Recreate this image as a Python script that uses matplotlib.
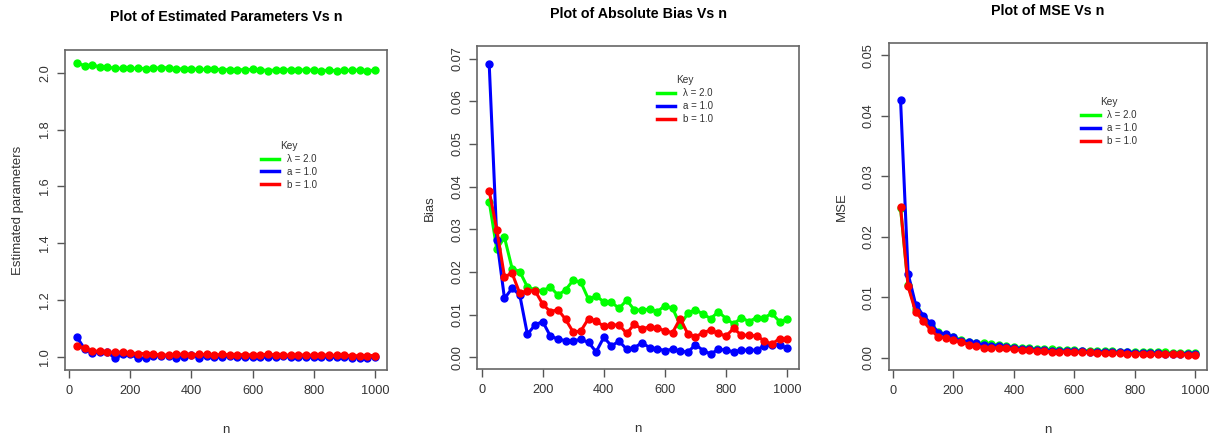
import numpy as np
import matplotlib
matplotlib.use("Agg")
from matplotlib import pyplot as plt

plt.rcParams['font.family'] = ['Liberation Sans', 'DejaVu Sans']

# sample sizes
n = list(range(25, 1001, 25))

# estimated parameters
est_lambda = [2.036, 2.025, 2.028, 2.021, 2.020, 2.016, 2.016, 2.016, 2.016, 2.015,
              2.016, 2.018, 2.018, 2.014, 2.014, 2.013, 2.013, 2.012, 2.013, 2.011,
              2.011, 2.011, 2.011, 2.012, 2.011, 2.008, 2.010, 2.011, 2.010, 2.009,
              2.011, 2.009, 2.008, 2.009, 2.008, 2.009, 2.009, 2.010, 2.008, 2.009]
est_a = [1.069, 1.028, 1.014, 1.016, 1.015, 0.995, 1.008, 1.008, 0.995, 0.996,
         1.004, 1.004, 1.004, 0.997, 0.999, 1.005, 0.997, 1.004, 0.998, 0.998,
         1.003, 0.998, 0.998, 0.998, 0.998, 0.998, 0.999, 1.003, 0.998, 0.999,
         0.998, 0.998, 0.999, 0.998, 0.998, 0.998, 0.997, 0.997, 0.997, 0.998]
est_b = [1.039, 1.030, 1.019, 1.020, 1.015, 1.016, 1.016, 1.013, 1.011, 1.011,
         1.009, 1.006, 1.006, 1.009, 1.009, 1.007, 1.008, 1.008, 1.006, 1.008,
         1.007, 1.007, 1.007, 1.006, 1.006, 1.009, 1.006, 1.005, 1.006, 1.006,
         1.006, 1.005, 1.007, 1.005, 1.005, 1.005, 1.004, 1.003, 1.004, 1.004]

# absolute bias
bias_lambda = [0.0365, 0.0253, 0.0281, 0.0208, 0.0201, 0.0165, 0.0158, 0.0156, 0.0165, 0.0146,
               0.0158, 0.0181, 0.0176, 0.0136, 0.0144, 0.0130, 0.0129, 0.0115, 0.0134, 0.0111,
               0.0111, 0.0113, 0.0107, 0.0121, 0.0115, 0.0076, 0.0103, 0.0112, 0.0101, 0.0091,
               0.0107, 0.0091, 0.0078, 0.0093, 0.0084, 0.0093, 0.0093, 0.0103, 0.0084, 0.0089]
bias_a = [0.0687, 0.0275, 0.0138, 0.0162, 0.0146, 0.0054, 0.0076, 0.0084, 0.0050, 0.0043,
          0.0039, 0.0039, 0.0042, 0.0035, 0.0013, 0.0047, 0.0027, 0.0038, 0.0019, 0.0023,
          0.0034, 0.0023, 0.0020, 0.0016, 0.0019, 0.0015, 0.0012, 0.0030, 0.0016, 0.0008,
          0.0019, 0.0017, 0.0013, 0.0017, 0.0017, 0.0017, 0.0027, 0.0029, 0.0030, 0.0021]
bias_b = [0.0390, 0.0298, 0.0189, 0.0197, 0.0150, 0.0156, 0.0156, 0.0125, 0.0107, 0.0112,
          0.0089, 0.0059, 0.0062, 0.0091, 0.0085, 0.0073, 0.0076, 0.0076, 0.0056, 0.0078,
          0.0066, 0.0072, 0.0069, 0.0062, 0.0058, 0.0091, 0.0055, 0.0048, 0.0058, 0.0064,
          0.0056, 0.0050, 0.0068, 0.0052, 0.0052, 0.0050, 0.0039, 0.0031, 0.0044, 0.0042]

# mean squared error
mse_lambda = [0.0247, 0.0120, 0.0080, 0.0068, 0.0052, 0.0043, 0.0038, 0.0034, 0.0030, 0.0026,
              0.0025, 0.0024, 0.0023, 0.0021, 0.0020, 0.0018, 0.0017, 0.0016, 0.0015, 0.0014,
              0.0014, 0.0013, 0.0013, 0.0013, 0.0012, 0.0012, 0.0011, 0.0011, 0.0011, 0.0010,
              0.0010, 0.0010, 0.0009, 0.0009, 0.0009, 0.0009, 0.0008, 0.0008, 0.0008, 0.0008]
mse_a = [0.0426, 0.0139, 0.0088, 0.0070, 0.0057, 0.0042, 0.0039, 0.0034, 0.0028, 0.0026,
         0.0024, 0.0021, 0.0020, 0.0020, 0.0018, 0.0017, 0.0015, 0.0014, 0.0013, 0.0013,
         0.0012, 0.0012, 0.0011, 0.0011, 0.0011, 0.0010, 0.0010, 0.0010, 0.0009, 0.0009,
         0.0009, 0.0008, 0.0008, 0.0008, 0.0008, 0.0007, 0.0007, 0.0007, 0.0007, 0.0007]
mse_b = [0.0249, 0.0118, 0.0076, 0.0061, 0.0046, 0.0035, 0.0033, 0.0029, 0.0027, 0.0022,
         0.0020, 0.0017, 0.0017, 0.0016, 0.0016, 0.0014, 0.0013, 0.0013, 0.0011, 0.0011,
         0.0010, 0.0010, 0.0010, 0.0010, 0.0009, 0.0009, 0.0008, 0.0008, 0.0008, 0.0008,
         0.0007, 0.0007, 0.0007, 0.0006, 0.0006, 0.0006, 0.0006, 0.0006, 0.0005, 0.0005]

labels = ["\u03bb = 2.0", "a = 1.0", "b = 1.0"]
colors = ["#00ff00", "#0000ff", "#ff0000"]

panels = [
    ("Plot of Estimated Parameters Vs n", "Estimated parameters",
     [est_lambda, est_a, est_b], (0.953, 2.080), [1.0, 1.2, 1.4, 1.6, 1.8, 2.0], "%.1f",
     [0.0536, 0.159, 0.2655, 0.727], (0.608, 0.716), 17),
    ("Plot of Absolute Bias Vs n", "Bias",
     [bias_lambda, bias_a, bias_b], (-0.00276, 0.0729), np.arange(0, 0.071, 0.01), "%.2f",
     [0.3938, 0.161, 0.2655, 0.734], (0.558, 0.910), 14),
    ("Plot of MSE Vs n", "MSE",
     [mse_lambda, mse_a, mse_b], (-0.0020, 0.0520), np.arange(0, 0.051, 0.01), "%.2f",
     [0.7333, 0.159, 0.2628, 0.743], (0.604, 0.834), 11),
]

fig = plt.figure(figsize=(12.12, 4.4), dpi=100)

for title, ylab, series, ylim, yticks, fmt, rect, legpos, ty in panels:
    ax = fig.add_axes(rect)
    for vals, col, lab in zip(series, colors, labels):
        ax.plot(n, vals, color=col, lw=2.2, marker='o', ms=5, label=lab)
    ax.set_xlim(-14, 1039)
    ax.set_ylim(*ylim)
    ax.set_xticks([0, 200, 400, 600, 800, 1000])
    ax.set_yticks(yticks)
    ax.set_yticklabels([fmt % v for v in yticks], rotation=90, va='center')
    ax.tick_params(direction='out', length=6, width=1, color='#555555',
                   labelsize=9.2, labelcolor='#333333', pad=5)
    ax.tick_params(axis='y', pad=4)
    for sp in ax.spines.values():
        sp.set_color('#666666')
        sp.set_linewidth(1.2)
    # title centred at the reference height (pixels from the top)
    ax.set_title(title, fontsize=10.3, fontweight='bold', va='center', pad=0,
                 y=(1 - ty / 440 - rect[1]) / rect[3])
    ax.set_xlabel("n", fontsize=9.5, color='#333333', labelpad=19)
    ax.set_ylabel(ylab, fontsize=9.5, color='#333333', labelpad=11)
    leg = ax.legend(loc='upper left', bbox_to_anchor=legpos, frameon=False,
                    title="Key", fontsize=7, title_fontsize=7.3,
                    handlelength=1.9, handletextpad=0.8, labelspacing=0.3,
                    borderpad=0, borderaxespad=0)
    for t in leg.get_texts():
        t.set_color('#333333')
    leg.get_title().set_color('#333333')
    for h in leg.get_lines():
        h.set_marker('')
        h.set_linewidth(2.5)

fig.savefig("out.png", dpi=100)
